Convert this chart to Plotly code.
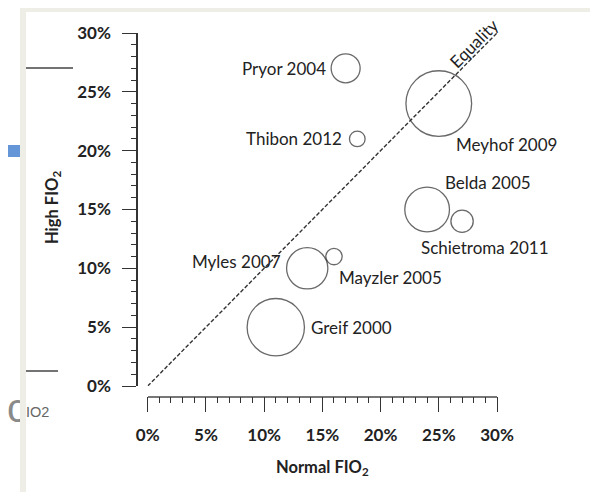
import plotly.graph_objects as go

# ---- data ----
studies = ["Greif 2000", "Pryor 2004", "Belda 2005", "Mayzler 2005",
           "Myles 2007", "Meyhof 2009", "Schietroma 2011", "Thibon 2012"]
normal_fio2 = [11.0, 17.0, 24.0, 16.0, 13.7, 25.0, 27.0, 18.0]   # % infection, normal FIO2
high_fio2 = [5.0, 27.0, 15.0, 11.0, 10.0, 24.0, 14.0, 21.0]      # % infection, high FIO2
study_weight = [738, 189, 449, 60, 383, 970, 112, 55]            # relative bubble weight
tick_vals = [0, 5, 10, 15, 20, 25, 30]
tick_text = ["0%", "5%", "10%", "15%", "20%", "25%", "30%"]

# label placement (pixel offsets from each bubble centre)
label_place = {
    "Greif 2000": ("left", 33, 0),
    "Pryor 2004": ("right", -18, 0),
    "Belda 2005": ("left", 16, 27),
    "Mayzler 2005": ("left", 3, -21),
    "Myles 2007": ("right", -24, 7),
    "Meyhof 2009": ("left", 15, -41),
    "Schietroma 2011": ("left", -43, -26),
    "Thibon 2012": ("right", -13, 0),
}

# page geometry: the html body adds an 8px margin around the figure
OX, OY = 8, 8
W, H = 590, 484
def px(x):
    return (x - OX) / W
def py(y):
    return 1 - (y - OY) / H

FONT = "Lato"
BEIGE = "#efeee6"
LBL = 17

fig = go.Figure()

# equality line
fig.add_trace(go.Scatter(
    x=[tick_vals[0], tick_vals[-1]], y=[tick_vals[0], tick_vals[-1]],
    mode="lines", line=dict(color="#333333", width=1.4, dash="4px,2px"),
    hoverinfo="skip", showlegend=False))

# bubbles
fig.add_trace(go.Scatter(
    x=normal_fio2, y=high_fio2, mode="markers", text=studies,
    marker=dict(size=study_weight, sizemode="area", sizeref=2 / 4.45,
                color="rgba(0,0,0,0)",
                line=dict(color="#2a2a2a", width=1.3)),
    showlegend=False))

# slide background artifact, partly hidden under the frame band
fig.add_trace(go.Scatter(
    x=[27], y=[412], mode="text", text=["Cc"], textposition="middle left",
    textfont=dict(family="Liberation Sans", size=40, color="#8a8a8a"),
    xaxis="x2", yaxis="y2", hoverinfo="skip", showlegend=False,
    cliponaxis=False))

annotations = []
for s, xv, yv in zip(studies, normal_fio2, high_fio2):
    anchor, dx, dy = label_place[s]
    annotations.append(dict(
        x=xv, y=yv, xref="x", yref="y", text=s, showarrow=False,
        xanchor=anchor, yanchor="middle", xshift=dx, yshift=dy,
        font=dict(family=FONT, size=LBL, color="#222222")))

annotations.append(dict(
    x=28.0, y=29.1, xref="x", yref="y", text="Equality", showarrow=False,
    textangle=-45, font=dict(family=FONT, size=LBL, color="#222222")))

# axis titles
annotations.append(dict(
    x=px(322.5), y=py(467), xref="paper", yref="paper",
    text="Normal FIO<sub>2</sub>", showarrow=False,
    xanchor="center", yanchor="middle",
    font=dict(family=FONT, size=16.5, color="#222222", weight="bold")))
annotations.append(dict(
    x=px(53), y=py(208), xref="paper", yref="paper",
    text="High FIO<sub>2</sub>", showarrow=False, textangle=-90,
    xanchor="center", yanchor="middle",
    font=dict(family=FONT, size=16.5, color="#222222", weight="bold")))

annotations.append(dict(
    x=px(51), y=py(412), xref="paper", yref="paper", text="IO2",
    showarrow=False, xanchor="right", yanchor="middle",
    font=dict(family="Liberation Sans", size=14.5, color="#666666")))

shapes = [
    # frame bands
    dict(type="rect", xref="paper", yref="paper", x0=px(20), x1=px(26),
         y0=py(492), y1=py(5), fillcolor=BEIGE, line_width=0, layer="above"),
    dict(type="rect", xref="paper", yref="paper", x0=px(20), x1=px(598),
         y0=py(12), y1=py(5), fillcolor=BEIGE, line_width=0, layer="above"),
    dict(type="rect", xref="paper", yref="paper", x0=px(593), x1=px(598),
         y0=py(492), y1=py(12), fillcolor=BEIGE, line_width=0, layer="above"),
    # blue bar
    dict(type="rect", xref="paper", yref="paper", x0=px(0), x1=px(20),
         y0=py(157), y1=py(145), fillcolor="#6496d8", line_width=0, layer="above"),
    # stray lines
    dict(type="line", xref="paper", yref="paper", x0=px(26), x1=px(73),
         y0=py(68), y1=py(68), line=dict(color="#444444", width=1.5), layer="above"),
    dict(type="line", xref="paper", yref="paper", x0=px(26), x1=px(58),
         y0=py(371), y1=py(371), line=dict(color="#444444", width=1.5), layer="above"),
]

tickfont = dict(family=FONT, size=17, color="#222222", weight="bold")

fig.update_layout(
    width=W, height=H,
    margin=dict(l=0, r=0, t=0, b=0, autoexpand=False),
    paper_bgcolor="white", plot_bgcolor="rgba(0,0,0,0)",
    font=dict(family=FONT),
    xaxis=dict(
        domain=[px(147.7), px(497)], range=[0, 30],
        anchor="free", position=py(396.5),
        tickmode="array", tickvals=tick_vals, ticktext=tick_text,
        ticks="outside", ticklen=15, tickwidth=1.3, tickcolor="#333333",
        ticklabelstandoff=8,
        minor=dict(dtick=1, tick0=0, ticks="outside", ticklen=6,
                   tickwidth=1.2, tickcolor="#333333", showgrid=False),
        showline=True, linecolor="#777777", linewidth=1.6,
        showgrid=False, zeroline=False, tickfont=tickfont,
    ),
    yaxis=dict(
        domain=[py(386), py(33)], range=[0, 30],
        anchor="free", position=px(137),
        tickmode="array", tickvals=tick_vals, ticktext=tick_text,
        ticks="outside", ticklen=14, tickwidth=1.3, tickcolor="#333333",
        ticklabelstandoff=8,
        minor=dict(dtick=1, tick0=0, ticks="outside", ticklen=5,
                   tickwidth=1.2, tickcolor="#333333", showgrid=False),
        showline=True, linecolor="#333333", linewidth=1.5,
        showgrid=False, zeroline=False, tickfont=tickfont,
    ),
    xaxis2=dict(domain=[0, 1], range=[OX, OX + W], anchor="y2", visible=False,
                fixedrange=True),
    yaxis2=dict(domain=[0, 1], range=[OY + H, OY], anchor="x2", visible=False,
                fixedrange=True),
    annotations=annotations,
    shapes=shapes,
)

fig.write_html("out.html")
